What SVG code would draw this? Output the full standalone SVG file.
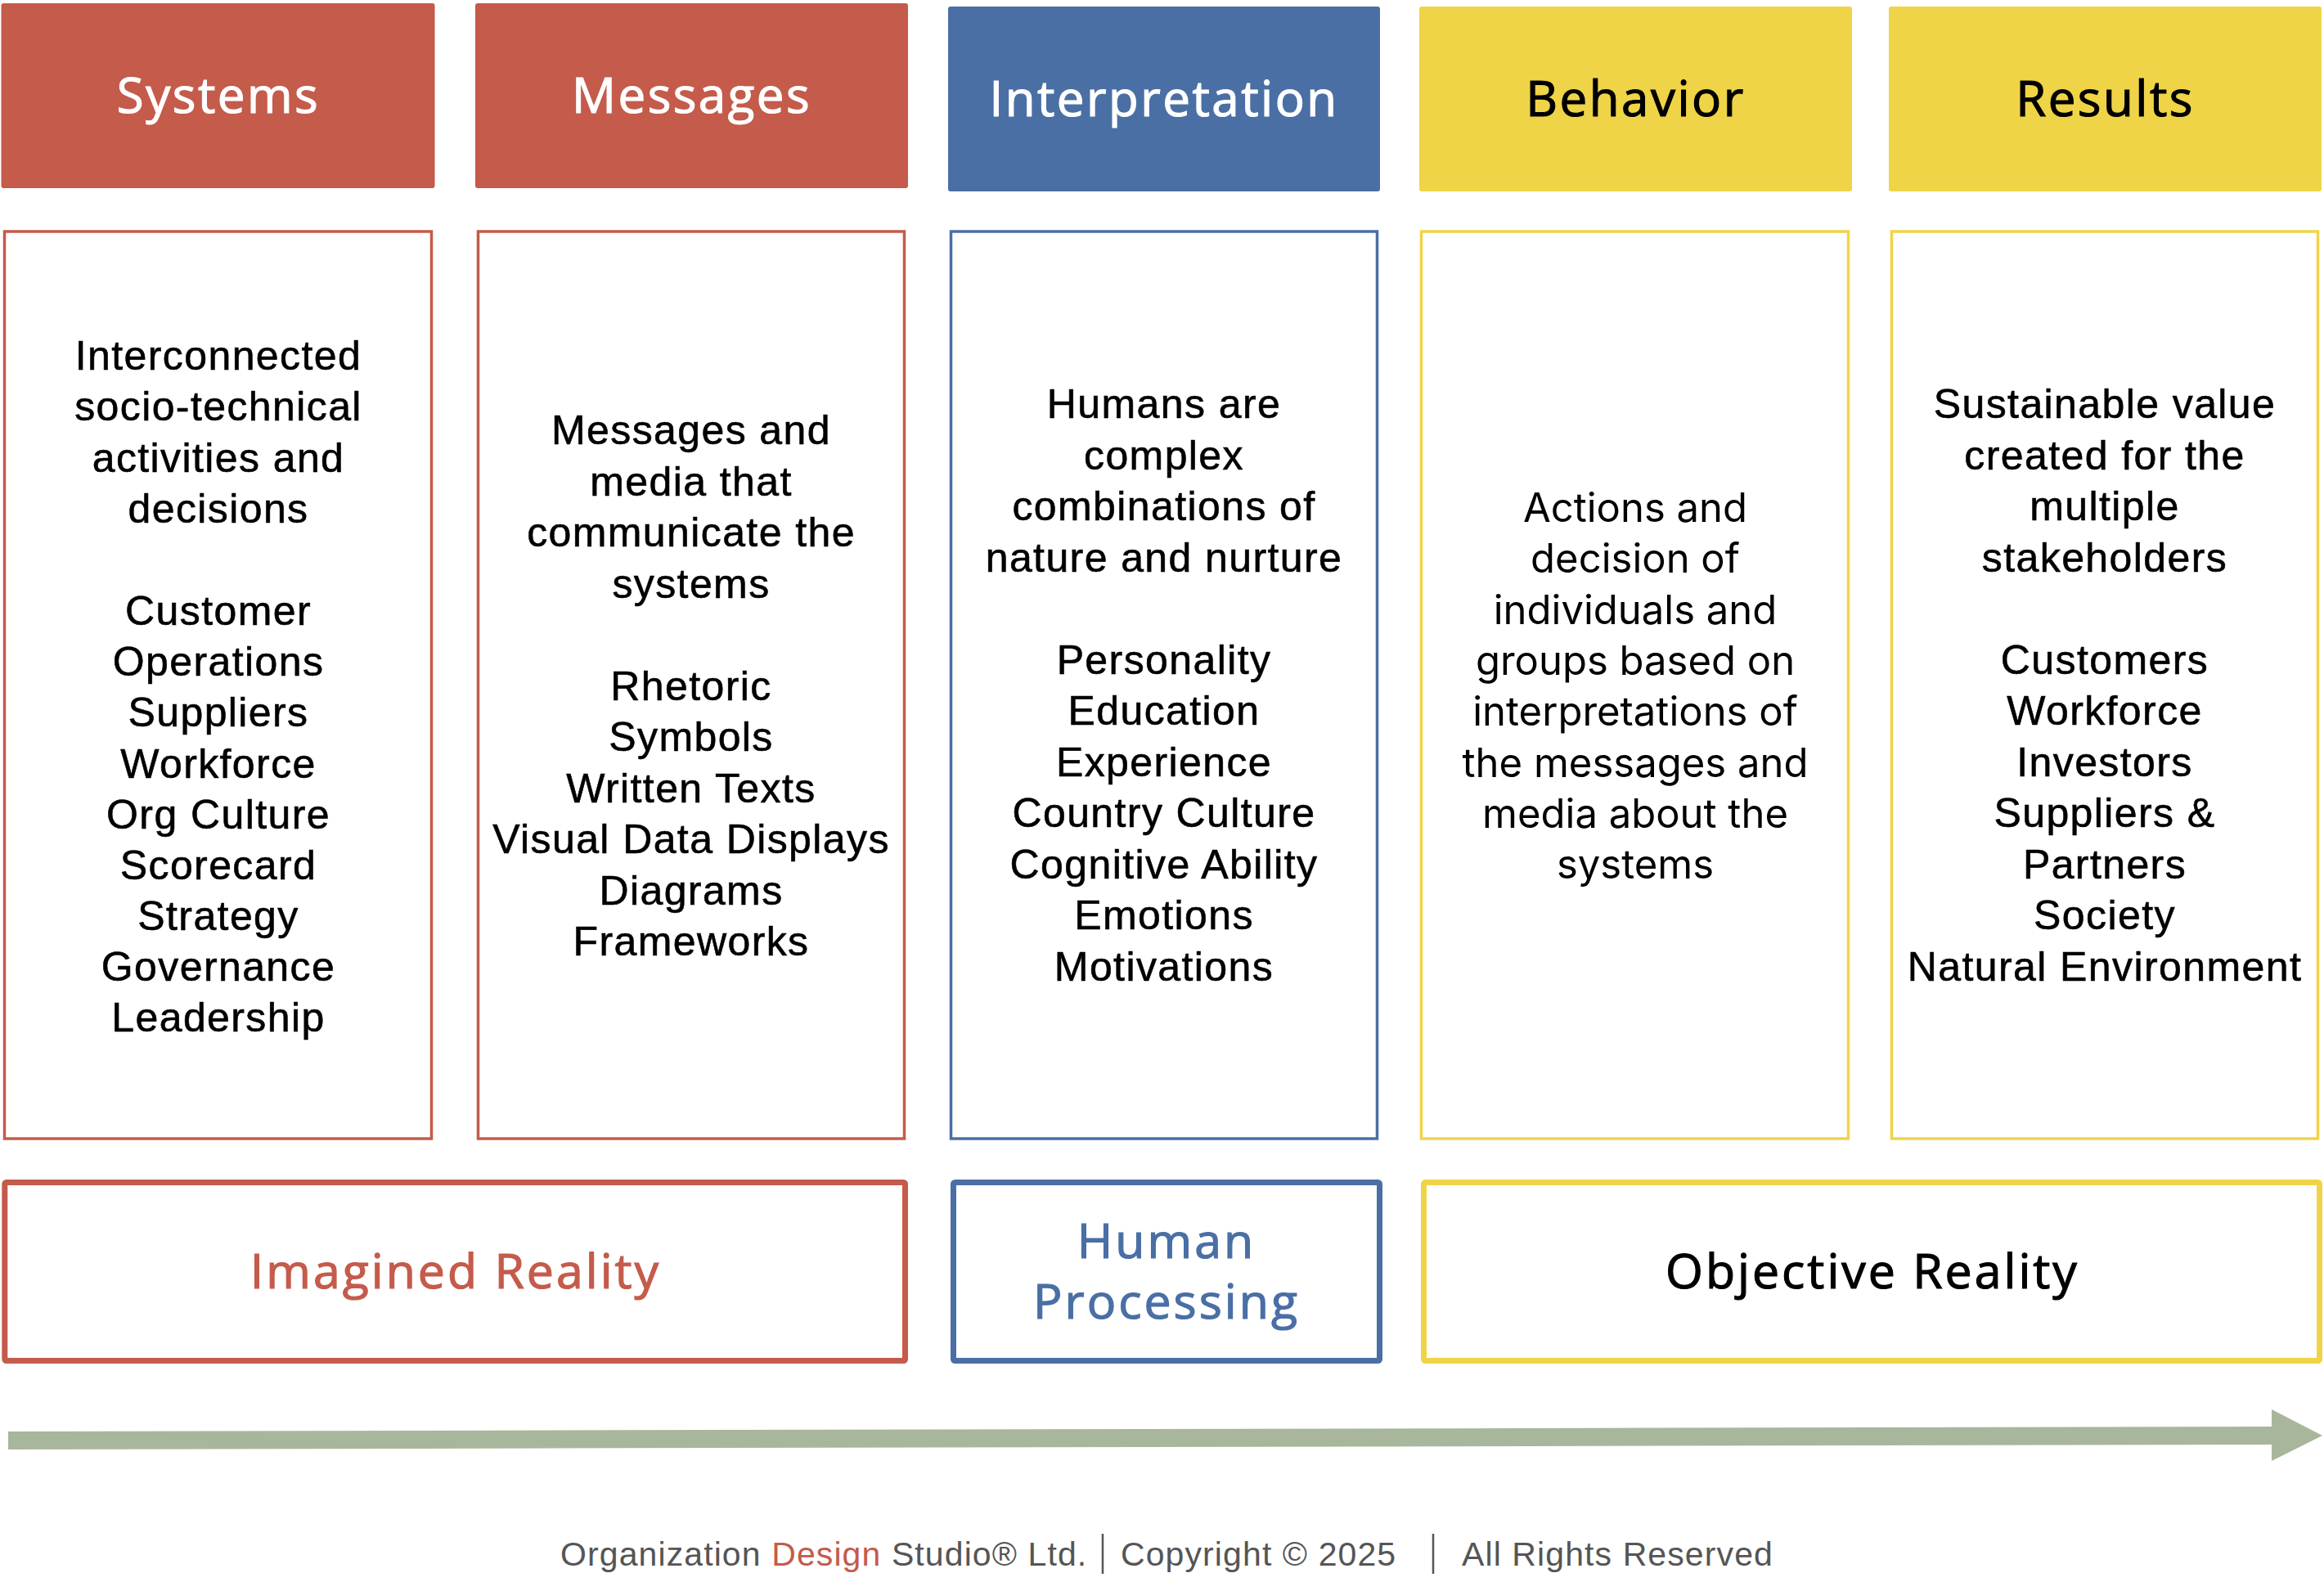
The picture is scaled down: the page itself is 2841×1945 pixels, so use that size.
<svg xmlns="http://www.w3.org/2000/svg" width="2841" height="1945" viewBox="0 0 2841 1945">
<style>
.hdr{font-family:"Open Sans","Liberation Sans",sans-serif;font-size:60px;letter-spacing:2.5px;text-anchor:middle;stroke-width:1.2px}
.hw{fill:#fff;stroke:#fff}.hk{fill:#000;stroke:#000}
.body{font-family:"Liberation Sans",Arial,sans-serif;font-size:50px;letter-spacing:1.4px;text-anchor:middle;fill:#000;stroke:#000;stroke-width:0.6px}
.body4{font-family:Inter,"Liberation Sans",sans-serif;font-size:49px;text-anchor:middle;fill:#000}
.lbl{font-family:"Open Sans","Liberation Sans",sans-serif;font-size:59px;letter-spacing:3px;text-anchor:middle;stroke-width:1.2px}
.tr{fill:#C45B4B;stroke:#C45B4B}.tb{fill:#4A6FA5;stroke:#4A6FA5}
.red{fill:#C45B4B}.blue{fill:#4A6FA5}.yel{fill:#F0D447}
.bred{fill:#fff;stroke:#C45B4B}.bblue{fill:#fff;stroke:#4A6FA5}.byel{fill:#fff;stroke:#F0D447}
.foot{font-family:"Liberation Sans",Arial,sans-serif;font-size:41px;letter-spacing:1.1px;fill:#555}
</style>
<rect width="2841" height="1945" fill="#fff"/>
<g id="hdr-systems"><rect class="red" x="1.5" y="4" width="530" height="226" rx="3"/><text class="hdr hw" x="267" y="138">Systems</text></g>
<g id="hdr-messages"><rect class="red" x="581" y="4" width="529" height="226" rx="3"/><text class="hdr hw" x="845.5" y="138">Messages</text></g>
<g id="hdr-interpretation"><rect class="blue" x="1159" y="8" width="528" height="226" rx="3"/><text class="hdr hw" x="1423" y="142">Interpretation</text></g>
<g id="hdr-behavior"><rect class="yel" x="1735" y="8" width="529" height="226" rx="3"/><text class="hdr hk" x="1999.5" y="142">Behavior</text></g>
<g id="hdr-results"><rect class="yel" x="2309" y="8" width="529" height="226" rx="3"/><text class="hdr hk" x="2573.5" y="142">Results</text></g>

<g id="body-systems"><rect class="bred" x="5.5" y="283" width="522" height="1109" stroke-width="3.5"/>
<text class="body"><tspan x="267" y="452">Interconnected</tspan><tspan x="267" y="514">socio-technical</tspan><tspan x="267" y="577">activities and</tspan><tspan x="267" y="639">decisions</tspan><tspan x="267" y="764">Customer</tspan><tspan x="267" y="826">Operations</tspan><tspan x="267" y="888">Suppliers</tspan><tspan x="267" y="951">Workforce</tspan><tspan x="267" y="1013">Org Culture</tspan><tspan x="267" y="1075">Scorecard</tspan><tspan x="267" y="1137">Strategy</tspan><tspan x="267" y="1199">Governance</tspan><tspan x="267" y="1261">Leadership</tspan></text></g>

<g id="body-messages"><rect class="bred" x="584.5" y="283" width="521" height="1109" stroke-width="3.5"/>
<text class="body"><tspan x="845" y="543">Messages and</tspan><tspan x="845" y="606">media that</tspan><tspan x="845" y="668">communicate the</tspan><tspan x="845" y="731">systems</tspan><tspan x="845" y="856">Rhetoric</tspan><tspan x="845" y="918">Symbols</tspan><tspan x="845" y="981">Written Texts</tspan><tspan x="845" y="1043">Visual Data Displays</tspan><tspan x="845" y="1106">Diagrams</tspan><tspan x="845" y="1168">Frameworks</tspan></text></g>

<g id="body-interpretation"><rect class="bblue" x="1162.5" y="283" width="521" height="1109" stroke-width="3.5"/>
<text class="body"><tspan x="1423" y="511">Humans are</tspan><tspan x="1423" y="573.5">complex</tspan><tspan x="1423" y="636">combinations of</tspan><tspan x="1423" y="698.5">nature and nurture</tspan><tspan x="1423" y="823.5">Personality</tspan><tspan x="1423" y="886">Education</tspan><tspan x="1423" y="948.5">Experience</tspan><tspan x="1423" y="1011">Country Culture</tspan><tspan x="1423" y="1073.5">Cognitive Ability</tspan><tspan x="1423" y="1136">Emotions</tspan><tspan x="1423" y="1198.5">Motivations</tspan></text></g>

<g id="body-behavior"><rect class="byel" x="1737.5" y="283" width="522" height="1109" stroke-width="3.5"/>
<text class="body4"><tspan x="1999" y="638">Actions and</tspan><tspan x="1999" y="700.3">decision of</tspan><tspan x="1999" y="762.6">individuals and</tspan><tspan x="1999" y="824.9">groups based on</tspan><tspan x="1999" y="887.2">interpretations of</tspan><tspan x="1999" y="949.5">the messages and</tspan><tspan x="1999" y="1011.8">media about the</tspan><tspan x="1999" y="1074.1">systems</tspan></text></g>

<g id="body-results"><rect class="byel" x="2312.5" y="283" width="521" height="1109" stroke-width="3.5"/>
<text class="body"><tspan x="2573" y="511">Sustainable value</tspan><tspan x="2573" y="573.5">created for the</tspan><tspan x="2573" y="636">multiple</tspan><tspan x="2573" y="698.5">stakeholders</tspan><tspan x="2573" y="823.5">Customers</tspan><tspan x="2573" y="886">Workforce</tspan><tspan x="2573" y="948.5">Investors</tspan><tspan x="2573" y="1011">Suppliers &amp;</tspan><tspan x="2573" y="1073.5">Partners</tspan><tspan x="2573" y="1136">Society</tspan><tspan x="2573" y="1198.5">Natural Environment</tspan></text></g>

<g id="imagined-reality"><rect class="bred" x="5.8" y="1445.5" width="1100.7" height="218" stroke-width="7" rx="2"/><text class="lbl tr" x="557" y="1575">Imagined Reality</text></g>
<g id="human-processing"><rect class="bblue" x="1165.5" y="1445.5" width="521" height="218" stroke-width="7" rx="2"/><text class="lbl tb"><tspan x="1426" y="1538">Human</tspan><tspan x="1426" y="1612">Processing</tspan></text></g>
<g id="objective-reality"><rect class="byel" x="1740.5" y="1445.5" width="1095" height="218" stroke-width="7" rx="2"/><text class="lbl hk" x="2289" y="1575">Objective Reality</text></g>

<g id="connectors"><polygon points="10,1750 2777,1744 2777,1723 2839,1755 2777,1786 2777,1766 10,1772" fill="#A8B79C"/></g>

<g id="footer">
<text class="foot" x="685" y="1914">Organization <tspan fill="#C45B4B">Design</tspan> Studio® Ltd.</text>
<line x1="1348" y1="1875" x2="1348" y2="1924" stroke="#555" stroke-width="2.5"/>
<text class="foot" x="1370" y="1914">Copyright © 2025</text>
<line x1="1752" y1="1875" x2="1752" y2="1924" stroke="#555" stroke-width="2.5"/>
<text class="foot" x="1787" y="1914">All Rights Reserved</text>
</g>
</svg>
